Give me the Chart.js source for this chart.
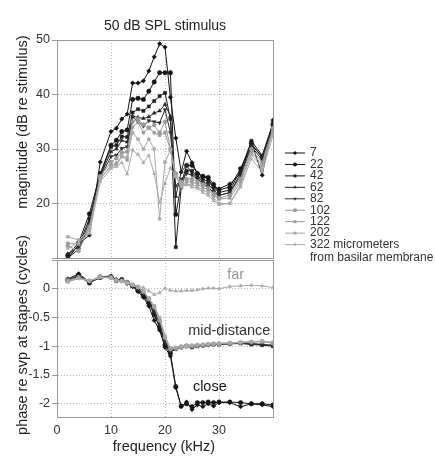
<!DOCTYPE html>
<html>
<head>
<meta charset="utf-8">
<script src="https://cdn.jsdelivr.net/npm/chart.js@4.4.1/dist/chart.umd.min.js"></script>
<style>
  html, body { margin: 0; padding: 0; background: #fff; }
  #wrap { position: relative; width: 435px; height: 457px; overflow: hidden; }
  #magChart { position: absolute; left: 0; top: 0; }
  #phaseChart { position: absolute; left: 0; top: 200px; }
</style>
</head>
<body>
<div id="wrap">
  <canvas id="magChart" width="435" height="270"></canvas>
  <canvas id="phaseChart" width="435" height="257"></canvas>
</div>
<script>
// frequency points (kHz)
const freqs = [2, 4, 6, 8, 10, 11, 12, 13, 14, 15, 16, 17, 18, 19, 20, 21, 22, 23, 24, 25, 26, 27, 28, 29, 30, 32, 34, 36, 38, 40];

// distance from basilar membrane (micrometers)
const depths = ['7', '22', '42', '62', '82', '102', '122', '202', '322'];

// magnitude (dB re stimulus), one list per depth
const mag7   = [9.8, 12.5, 14.2, 27.6, 33.2, 33.8, 35.5, 36.4, 42.1, 42.1, 42.5, 44.3, 46.9, 49.3, 48.7, 39.5, 32.0, 25.8, 29.6, 27.5, 25.5, 25.0, 24.5, 23.0, 22.7, 23.6, 25.5, 31.3, 25.2, 35.3];
const mag22  = [10.5, 12.8, 18.1, 25.5, 30.7, 31.6, 33.2, 33.5, 39.1, 39.3, 39.1, 40.6, 42.3, 44.0, 44.0, 44.0, 18.0, 23.5, 27.0, 27.0, 25.5, 25.0, 24.8, 23.5, 22.5, 23.0, 26.4, 31.0, 28.5, 34.5];
const mag42  = [10.2, 12.3, 17.2, 25.1, 30.4, 30.7, 32.3, 32.2, 36.7, 37.3, 37.0, 37.8, 38.8, 39.7, 40.3, 35.5, 12.0, 23.0, 26.0, 26.0, 25.0, 24.5, 24.0, 23.0, 22.0, 22.5, 26.0, 31.5, 28.8, 34.8];
const mag62  = [10.8, 12.0, 16.6, 25.0, 29.5, 30.0, 31.6, 31.3, 36.0, 35.8, 35.6, 35.9, 36.6, 37.0, 38.2, 36.0, 21.3, 25.8, 27.0, 25.5, 24.8, 24.0, 23.5, 22.5, 21.5, 22.0, 25.5, 30.8, 28.5, 34.5];
const mag82  = [10.0, 11.6, 16.0, 24.8, 28.6, 28.9, 30.1, 30.4, 35.9, 35.0, 34.2, 35.2, 35.0, 34.8, 37.2, 33.0, 23.2, 24.5, 25.5, 25.2, 24.5, 23.8, 23.0, 22.0, 21.5, 22.0, 25.0, 30.5, 28.0, 34.0];
const mag102 = [12.2, 11.3, 15.4, 25.0, 27.6, 28.3, 29.3, 29.5, 35.0, 35.5, 34.5, 33.9, 34.4, 33.0, 35.0, 30.0, 25.5, 24.0, 24.5, 24.5, 24.0, 23.5, 22.8, 21.8, 21.0, 21.5, 24.5, 30.0, 27.5, 33.8];
const mag122 = [12.7, 12.5, 15.8, 24.5, 27.0, 27.4, 28.6, 28.0, 34.0, 34.9, 33.0, 33.9, 33.0, 32.5, 33.0, 29.8, 25.0, 23.5, 24.0, 24.0, 23.5, 23.0, 22.5, 21.5, 20.8, 21.0, 24.0, 29.5, 27.0, 33.5];
const mag202 = [13.9, 13.3, 15.0, 24.5, 26.8, 27.0, 28.6, 28.5, 33.0, 31.8, 30.0, 31.8, 30.0, 17.2, 27.6, 29.8, 25.0, 23.5, 23.5, 23.5, 23.0, 22.5, 22.0, 21.0, 20.0, 20.0, 23.5, 29.0, 26.5, 33.0];
const mag322 = [11.8, 12.8, 14.5, 24.0, 26.4, 26.8, 27.5, 25.4, 29.8, 29.0, 27.5, 28.8, 25.5, 20.2, 23.7, 26.5, 25.0, 23.0, 23.5, 23.0, 22.8, 22.0, 21.5, 20.5, 19.8, 20.0, 23.0, 28.2, 25.8, 32.5];

// phase re stapes velocity (cycles)
const ph7   = [0.17, 0.26, 0.12, 0.21, 0.22, 0.16, 0.15, 0.10, 0.04, -0.05, -0.15, -0.30, -0.55, -0.72, -1.02, -1.17, -1.72, -2.05, -1.97, -2.10, -2.02, -2.05, -2.00, -2.04, -1.98, -1.98, -2.05, -2.00, -2.02, -2.05];
const ph22  = [0.14, 0.24, 0.10, 0.20, 0.21, 0.14, 0.16, 0.11, 0.05, -0.03, -0.12, -0.25, -0.45, -0.68, -0.98, -1.12, -1.70, -2.04, -2.00, -2.05, -1.98, -1.98, -1.97, -1.98, -1.97, -1.97, -1.98, -2.00, -2.00, -2.02];
const ph42  = [0.16, 0.22, 0.13, 0.19, 0.20, 0.15, 0.14, 0.10, 0.05, -0.02, -0.10, -0.22, -0.42, -0.66, -0.97, -1.10, -1.05, -1.02, -1.00, -1.02, -1.00, -0.99, -0.98, -0.97, -0.97, -0.96, -0.95, -0.97, -0.98, -1.00];
const ph62  = [0.15, 0.21, 0.12, 0.20, 0.21, 0.15, 0.15, 0.10, 0.05, -0.01, -0.09, -0.20, -0.40, -0.63, -0.95, -1.08, -1.04, -1.01, -0.99, -1.00, -0.99, -0.98, -0.97, -0.97, -0.96, -0.95, -0.95, -0.96, -0.97, -0.99];
const ph82  = [0.16, 0.20, 0.11, 0.19, 0.20, 0.14, 0.14, 0.09, 0.04, -0.01, -0.08, -0.19, -0.38, -0.60, -0.92, -1.07, -1.03, -1.01, -0.99, -0.99, -0.98, -0.98, -0.97, -0.96, -0.96, -0.95, -0.94, -0.95, -0.97, -0.98];
const ph102 = [0.15, 0.20, 0.14, 0.21, 0.20, 0.15, 0.14, 0.11, 0.07, 0.03, -0.05, -0.18, -0.32, -0.55, -0.85, -1.05, -1.04, -1.02, -1.00, -1.00, -0.99, -0.98, -0.97, -0.96, -0.96, -0.95, -0.94, -0.93, -0.92, -0.95];
const ph122 = [0.13, 0.19, 0.13, 0.20, 0.19, 0.14, 0.13, 0.11, 0.07, 0.03, -0.04, -0.17, -0.30, -0.52, -0.84, -1.04, -1.03, -1.01, -0.99, -0.99, -0.98, -0.97, -0.96, -0.96, -0.95, -0.94, -0.93, -0.92, -0.92, -0.94];
const ph202 = [0.12, 0.18, 0.14, 0.20, 0.19, 0.14, 0.13, 0.10, 0.06, 0.02, -0.05, -0.16, -0.30, -0.50, -0.82, -1.03, -1.02, -1.00, -0.99, -0.98, -0.97, -0.97, -0.96, -0.95, -0.95, -0.94, -0.93, -0.92, -0.91, -0.93];
const ph322 = [0.12, 0.18, 0.14, 0.20, 0.19, 0.14, 0.13, 0.10, 0.07, 0.04, 0.02, -0.04, -0.10, -0.07, 0.01, -0.03, -0.04, -0.04, -0.03, -0.03, -0.02, 0.00, 0.01, 0.01, 0.00, 0.04, 0.05, 0.06, 0.05, 0.02];

const magnitude = [mag7, mag22, mag42, mag62, mag82, mag102, mag122, mag202, mag322];
const phase = [ph7, ph22, ph42, ph62, ph82, ph102, ph122, ph202, ph322];

// axis ticks
const freqTicks = [0, 10, 20, 30, 40];
const freqTickLabels = ['0', '10', '20', '30', ''];
const magTicks = [10, 20, 30, 40, 50];
const magTickLabels = ['', '20', '30', '40', '50'];
const phaseTicks = [0.5, 0, -0.5, -1, -1.5, -2];
const phaseTickLabels = ['', '0', '-0.5', '-1', '-1.5', '-2'];

// texts
const chartTitle = '50 dB SPL stimulus';
const magTitle = 'magnitude (dB re stimulus)';
const phaseTitle = 'phase re svp at stapes (cycles)';
const freqTitle = 'frequency (kHz)';
const unitNote = ' micrometers';
const legendNote = 'from basilar membrane';
const groupNotes = [
  { text: 'far', f: 33.1, p: 0.24, color: '#999' },
  { text: 'mid-distance', f: 31.9, p: -0.73, color: '#333' },
  { text: 'close', f: 28.3, p: -1.71, color: '#111' }
];

// styles per depth
const lineColors = ['#111', '#151515', '#1c1c1c', '#262626', '#2e2e2e', '#9a9a9a', '#9a9a9a', '#a8a8a8', '#aaaaaa'];
const markerStyles = ['rectRot', 'circle', 'rect', 'triangle', 'triangle', 'circle', 'rect', 'rect', 'triangle'];
const markerRotation = [0, 0, 0, 0, 180, 0, 0, 0, 0];

const font = '"Liberation Sans", Arial, sans-serif';

function makeSets(values) {
  return depths.map((d, i) => ({
    label: d,
    data: freqs.map((f, j) => ({ x: f, y: values[i][j] })),
    borderColor: lineColors[i],
    backgroundColor: lineColors[i],
    pointBackgroundColor: lineColors[i],
    pointBorderColor: lineColors[i],
    pointStyle: markerStyles[i],
    pointRotation: markerRotation[i],
    pointRadius: i < 5 ? 2.2 : 2,
    pointBorderWidth: 0.5,
    borderWidth: 1,
    tension: 0,
    order: -i
  }));
}

function gridOpts() {
  return { color: '#b8b8b8', lineWidth: 1, tickLength: 5, tickColor: '#999', tickBorderDash: [] };
}

function frame(chart) {
  const { ctx, chartArea: a } = chart;
  ctx.save();
  ctx.strokeStyle = '#9a9a9a';
  ctx.lineWidth = 1;
  ctx.strokeRect(Math.round(a.left) + 0.5, Math.round(a.top) + 0.5, Math.round(a.right - a.left), Math.round(a.bottom - a.top));
  ctx.restore();
}

function rotatedText(ctx, text, x, y) {
  ctx.save();
  ctx.translate(x, y);
  ctx.rotate(-Math.PI / 2);
  ctx.textAlign = 'center';
  ctx.textBaseline = 'middle';
  ctx.fillText(text, 0, 0);
  ctx.restore();
}

// top panel decorations: frame, title, y title, legend
const magDecor = {
  id: 'magDecor',
  afterDraw(chart) {
    const { ctx, chartArea: a } = chart;
    frame(chart);
    ctx.save();
    ctx.fillStyle = '#222';
    ctx.font = '14px ' + font;
    ctx.textAlign = 'center';
    ctx.textBaseline = 'middle';
    ctx.fillText(chartTitle, (a.left + a.right) / 2, 26);
    ctx.font = '14.5px ' + font;
    rotatedText(ctx, magTitle, 23, 122);

    ctx.font = '12px ' + font;
    ctx.textAlign = 'left';
    chart.data.datasets.forEach((ds, i) => {
      const y = 153 + i * 11.45;
      ctx.strokeStyle = ds.borderColor;
      ctx.lineWidth = 1;
      ctx.beginPath();
      ctx.moveTo(285, y);
      ctx.lineTo(305, y);
      ctx.stroke();
      ctx.fillStyle = ds.pointBackgroundColor;
      Chart.helpers.drawPoint(ctx, { pointStyle: ds.pointStyle, radius: 2, rotation: ds.pointRotation, borderWidth: 0 }, 295, y);
      ctx.fillStyle = '#333';
      ctx.fillText(ds.label + (i === depths.length - 1 ? unitNote : ''), 310, y);
    });
    ctx.fillText(legendNote, 310, 153 + depths.length * 11.45 + 2);
    ctx.restore();
  }
};

// bottom panel decorations: frame, titles, group notes
const phaseDecor = {
  id: 'phaseDecor',
  afterDraw(chart) {
    const { ctx, chartArea: a, scales } = chart;
    frame(chart);
    ctx.save();
    ctx.fillStyle = '#222';
    ctx.font = '14.5px ' + font;
    rotatedText(ctx, phaseTitle, 23, 135);
    ctx.textAlign = 'center';
    ctx.textBaseline = 'middle';
    ctx.fillText(freqTitle, (a.left + a.right) / 2 - 1, 247);
    groupNotes.forEach(n => {
      ctx.fillStyle = n.color;
      ctx.fillText(n.text, scales.x.getPixelForValue(n.f), scales.y.getPixelForValue(n.p));
    });
    ctx.restore();
  }
};

Chart.defaults.font.family = font;
Chart.defaults.color = '#333';

new Chart(document.getElementById('magChart'), {
  type: 'line',
  data: { datasets: makeSets(magnitude) },
  options: {
    responsive: false,
    animation: false,
    events: [],
    layout: { padding: { left: 0, right: 162, top: 40, bottom: 12 } },
    plugins: { legend: { display: false }, title: { display: false }, tooltip: { enabled: false } },
    scales: {
      x: {
        type: 'linear', min: 0, max: 40,
        afterBuildTicks: s => { s.ticks = freqTicks.map(v => ({ value: v })); },
        afterFit: s => { s.height = 0; },
        ticks: { display: false },
        grid: Object.assign(gridOpts(), { drawTicks: false }),
        border: { display: true, color: '#9a9a9a', dash: [1, 2] }
      },
      y: {
        type: 'linear', min: 10, max: 50,
        afterBuildTicks: s => { s.ticks = magTicks.map(v => ({ value: v })); },
        afterFit: s => { s.width = 57; },
        ticks: {
          padding: 2,
          font: { size: 12.5 },
          color: '#333',
          callback: (v, i) => magTickLabels[magTicks.indexOf(v)]
        },
        grid: gridOpts(),
        border: { display: true, color: '#9a9a9a', dash: [1, 2] }
      }
    }
  },
  plugins: [magDecor]
});

new Chart(document.getElementById('phaseChart'), {
  type: 'line',
  data: { datasets: makeSets(phase) },
  options: {
    responsive: false,
    animation: false,
    events: [],
    layout: { padding: { left: 0, right: 162, top: 60, bottom: 0 } },
    plugins: { legend: { display: false }, title: { display: false }, tooltip: { enabled: false } },
    scales: {
      x: {
        type: 'linear', min: 0, max: 40,
        afterBuildTicks: s => { s.ticks = freqTicks.map(v => ({ value: v })); },
        afterFit: s => { s.height = 40; },
        ticks: {
          padding: 6,
          font: { size: 12.5 },
          color: '#333',
          maxRotation: 0,
          callback: v => freqTickLabels[freqTicks.indexOf(v)]
        },
        grid: Object.assign(gridOpts(), { drawTicks: false }),
        border: { display: true, color: '#9a9a9a', dash: [1, 2] }
      },
      y: {
        type: 'linear', min: -2.23, max: 0.5,
        afterBuildTicks: s => { s.ticks = phaseTicks.map(v => ({ value: v })); },
        afterFit: s => { s.width = 57; },
        ticks: {
          padding: 2,
          font: { size: 12.5 },
          color: '#333',
          callback: v => phaseTickLabels[phaseTicks.indexOf(v)]
        },
        grid: gridOpts(),
        border: { display: true, color: '#9a9a9a', dash: [1, 2] }
      }
    }
  },
  plugins: [phaseDecor]
});
</script>
</body>
</html>
